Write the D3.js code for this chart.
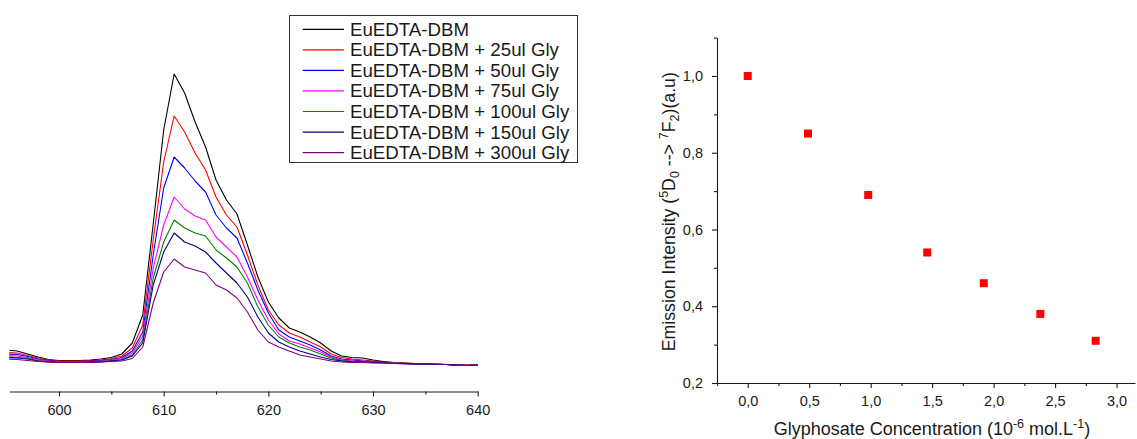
<!DOCTYPE html>
<html>
<head>
<meta charset="utf-8">
<script src="https://cdn.jsdelivr.net/npm/d3@7"></script>
<style>
  html, body { margin: 0; padding: 0; background: #fff; }
  svg { display: block; font-family: "Liberation Sans", Arial, sans-serif; }
</style>
</head>
<body>
<svg id="chart" width="1137" height="439"></svg>
<script>
// ---- Emission spectra (a.u.), sampled every 1 nm ----
const wavelengths = [595, 596, 597, 598, 599, 600, 601, 602, 603, 604,
  605, 606, 607, 608, 609, 610, 611, 612, 613, 614,
  615, 616, 617, 618, 619, 620, 621, 622, 623, 624,
  625, 626, 627, 628, 629, 630, 631, 632, 633, 634,
  635, 636, 637, 638, 639, 640];

const seriesNames = ["EuEDTA-DBM", "EuEDTA-DBM + 25ul Gly", "EuEDTA-DBM + 50ul Gly",
  "EuEDTA-DBM + 75ul Gly", "EuEDTA-DBM + 100ul Gly", "EuEDTA-DBM + 150ul Gly",
  "EuEDTA-DBM + 300ul Gly"];

const spectrum0 = [16, 15, 12, 9, 6.5, 5.5, 5.5, 5.5, 6, 7,
  8.5, 12, 23, 51, 142, 236, 292, 273, 244, 219,
  186, 166, 152, 121, 89, 64, 48, 38, 34, 29,
  23, 15, 10, 8.5, 8, 6, 4.5, 3.5, 3, 2.5,
  2, 2, 1.5, 1, 1, 1];
const spectrum25 = [13.5, 13, 10.5, 8, 6, 5, 5, 5, 5.5, 6,
  7.5, 10, 18, 41, 126, 204, 250, 234, 213, 196,
  169, 151, 139, 111, 81, 56, 41, 33, 29, 24,
  19, 12, 8.5, 7, 6, 5, 4, 3.5, 3, 2.5,
  2, 2, 1.5, 1, 1, 1];
const spectrum50 = [12, 11.5, 9.5, 7, 5.5, 4.5, 4.5, 4.5, 5, 5.5,
  6.5, 8.5, 15, 34, 111, 178, 209, 198, 185, 174,
  151, 138, 128, 103, 76, 53, 36, 29, 25, 21,
  16, 10, 7, 6, 5, 4.5, 4, 3, 2.5, 2,
  2, 1.5, 1.5, 1, 0.5, 1];
const spectrum75 = [10.5, 10, 8.5, 6.5, 5, 4, 4, 4, 4.5, 5,
  6, 7.5, 13, 30, 98, 141, 169, 157, 150, 146,
  129, 119, 109, 89, 66, 46, 32, 25, 22, 18,
  14, 9, 6, 5, 4.5, 4, 3.5, 3, 2.5, 2,
  2, 1.5, 1.5, 1, 0.5, 1];
const spectrum100 = [9, 8.5, 7.5, 5.5, 4.5, 4, 4, 4, 4, 4.5,
  5.5, 6.5, 11, 26, 88, 124, 146, 138, 133, 130,
  116, 108, 99, 83, 59, 41, 29, 23, 19, 16,
  12, 8, 5.5, 4.5, 4, 4, 3.5, 3, 2.5, 2,
  2, 1.5, 1.5, 1, 0.5, 1];
const spectrum150 = [8.5, 8, 7, 5, 4, 3.5, 3.5, 3.5, 4, 4,
  5, 6, 10, 23, 81, 114, 133, 124, 120, 114,
  103, 93, 83, 69, 49, 33, 24, 19, 15, 12,
  9, 6.5, 5, 4, 4, 3.5, 3, 2.5, 2.5, 2,
  2, 1.5, 1.5, 1, 0.5, 1];
const spectrum300 = [7, 6.5, 5.5, 4.5, 4, 3.5, 3.5, 3.5, 3.5, 4,
  4.5, 5, 7.5, 19, 63, 94, 107, 99, 96, 93,
  81, 76, 68, 54, 36, 24, 19, 15, 11, 9,
  7, 5, 4, 3.5, 3.5, 3, 3, 2.5, 2, 2,
  2, 2, 1.5, 0.5, 0.5, 1];

const spectrumTicks = [600, 610, 620, 630, 640];
const spectrumMinorTicks = [605, 615, 625, 635];

// ---- Quenching by glyphosate ----
const concentrations = [0, 0.49, 0.98, 1.46, 1.92, 2.38, 2.83];
const relativeEmission = [1.0, 0.85, 0.69, 0.54, 0.46, 0.38, 0.31];
const concTicks = [0, 0.5, 1.0, 1.5, 2.0, 2.5, 3.0];
const concMinorTicks = [-0.25, 0.25, 0.75, 1.25, 1.75, 2.25, 2.75];
const emissionTicks = [0.2, 0.4, 0.6, 0.8, 1.0];
const emissionMinorTicks = [0.3, 0.5, 0.7, 0.9, 1.1];

// ---- styling ----
const lineColors = ["#000000", "#ff0000", "#0000ff", "#ff00ff", "#008000", "#000080", "#800080"];
const inkColor = "#1a1a1a";

const svg = d3.select("#chart");
const commaFmt = d => d3.format(".1f")(d).replace(".", ",");

// ================= Left panel: spectra =================
const allSpectra = [spectrum0, spectrum25, spectrum50, spectrum75, spectrum100, spectrum150, spectrum300];

const xS = d3.scaleLinear().domain([595.25, 640]).range([9.3, 477.7]);
const yS = d3.scaleLinear().domain([0, 300]).range([366, 66]);
const axisY = 391.5;

svg.append("defs").append("clipPath").attr("id", "specClip")
  .append("rect").attr("x", xS.range()[0]).attr("y", 0)
  .attr("width", xS.range()[1] - xS.range()[0] + 1).attr("height", axisY);

const lineGen = d3.line()
  .x((d, i) => xS(wavelengths[i]))
  .y(d => yS(d));

const specG = svg.append("g").attr("clip-path", "url(#specClip)");
allSpectra.forEach((vals, k) => {
  specG.append("path")
    .datum(vals)
    .attr("d", lineGen)
    .attr("fill", "none")
    .attr("stroke", lineColors[k])
    .attr("stroke-width", 1.1)
    .attr("stroke-linejoin", "round");
});

svg.append("g").attr("transform", `translate(0,${axisY})`)
  .call(d3.axisBottom(xS).tickValues(spectrumTicks).tickSize(5).tickSizeOuter(0).tickPadding(8));
svg.append("g").attr("transform", `translate(0,${axisY})`)
  .call(d3.axisBottom(xS).tickValues(spectrumMinorTicks).tickSize(3).tickFormat(""))
  .call(g => g.select(".domain").remove());

// legend
const legX = 289.5, legY = 15.5, legW = 288, legH = 147, rowStep = 20.55, firstRow = 29.3;
const leg = svg.append("g");
leg.append("rect").attr("x", legX).attr("y", legY).attr("width", legW).attr("height", legH)
  .attr("fill", "#fff").attr("stroke", "#333").attr("stroke-width", 1);
seriesNames.forEach((name, i) => {
  const cy = firstRow + i * rowStep;
  leg.append("line").attr("x1", 302.7).attr("x2", 344).attr("y1", cy).attr("y2", cy)
    .attr("stroke", lineColors[i]).attr("stroke-width", 1.2);
  leg.append("text").attr("x", 350).attr("y", cy + 6.5)
    .attr("font-size", 18.7).attr("fill", inkColor).text(name);
});

// ================= Right panel: quenching =================
const xR = d3.scaleLinear().domain([-0.25, 3.15]).range([717, 1135]);
const yR = d3.scaleLinear().domain([0.2, 1.1]).range([383, 37.6]);

svg.append("g").attr("transform", `translate(0,${yR(0.2)})`)
  .call(d3.axisBottom(xR).tickValues(concTicks).tickFormat(commaFmt).tickSize(5).tickSizeOuter(0).tickPadding(8));
svg.append("g").attr("transform", `translate(0,${yR(0.2)})`)
  .call(d3.axisBottom(xR).tickValues(concMinorTicks).tickSize(3).tickFormat(""))
  .call(g => g.select(".domain").remove());

svg.append("g").attr("transform", `translate(${xR(-0.25)},0)`)
  .call(d3.axisLeft(yR).tickValues(emissionTicks).tickFormat(commaFmt).tickSize(5).tickSizeOuter(0).tickPadding(9));
svg.append("g").attr("transform", `translate(${xR(-0.25)},0)`)
  .call(d3.axisLeft(yR).tickValues(emissionMinorTicks).tickSize(3).tickFormat(""))
  .call(g => g.select(".domain").remove());

// shared axis styling
svg.selectAll(".tick text").attr("font-size", 14.5).attr("fill", inkColor)
  .attr("font-family", "'Liberation Sans', Arial, sans-serif");
svg.selectAll(".domain, .tick line").attr("stroke", inkColor).attr("stroke-width", 1.1);

// markers
const mk = 8;
svg.append("g").selectAll("rect")
  .data(concentrations)
  .join("rect")
  .attr("x", (d) => xR(d) - mk / 2)
  .attr("y", (d, i) => yR(relativeEmission[i]) - mk / 2)
  .attr("width", mk).attr("height", mk)
  .attr("fill", "#ff0000");

// axis titles
const xt = svg.append("text").attr("x", 932).attr("y", 435).attr("text-anchor", "middle")
  .attr("font-size", 18).attr("fill", inkColor);
xt.append("tspan").text("Glyphosate Concentration (10");
xt.append("tspan").attr("dy", -7).attr("font-size", 12.5).text("-6");
xt.append("tspan").attr("dy", 7).text(" mol.L");
xt.append("tspan").attr("dy", -7).attr("font-size", 12.5).text("-1");
xt.append("tspan").attr("dy", 7).text(")");

const yt = svg.append("text").attr("transform", "translate(675,211.7) rotate(-90)")
  .attr("text-anchor", "middle").attr("font-size", 17.7).attr("fill", inkColor);
yt.append("tspan").text("Emission Intensity (");
yt.append("tspan").attr("dy", -7).attr("font-size", 12.5).text("5");
yt.append("tspan").attr("dy", 7).text("D");
yt.append("tspan").attr("dy", 4).attr("font-size", 12.5).text("0");
yt.append("tspan").attr("dy", -4).text(" --> ");
yt.append("tspan").attr("dy", -7).attr("font-size", 12.5).text("7");
yt.append("tspan").attr("dy", 7).text("F");
yt.append("tspan").attr("dy", 4).attr("font-size", 12.5).text("2");
yt.append("tspan").attr("dy", -4).text(")(a.u)");
</script>
</body>
</html>
